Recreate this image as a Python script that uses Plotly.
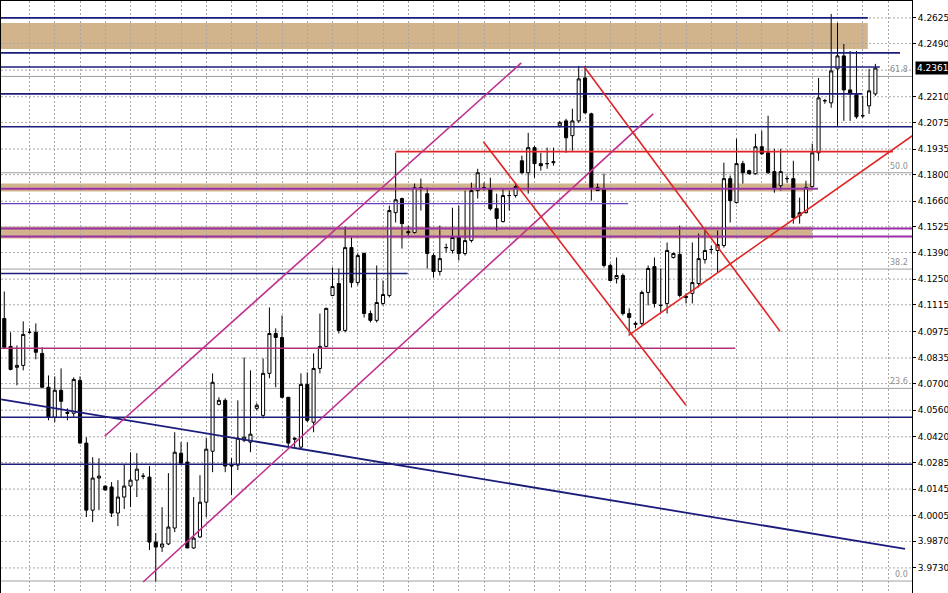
import plotly.graph_objects as go

# ---------------- data (prices) ----------------
opens = [4.1043,4.0896,4.0786,4.0796,4.0970,4.0970,4.0859,4.0681,4.0523,4.0665,
         4.0549,4.0544,4.0717,4.0387,4.0034,4.0203,4.0161,4.0156,4.0019,4.0103,
         4.0161,4.0192,4.0213,4.0208,3.9866,3.9840,3.9856,3.9940,4.0334,4.0287,
         3.9835,3.9893,4.0076,4.0344,4.0591,4.0612,4.0266,4.0271,4.0402,4.0392,
         4.0570,4.0533,4.0754,4.0964,4.0943,4.0628,4.0413,4.0366,4.0696,4.0497,
         4.0780,4.0896,4.1164,4.1227,4.0980,4.1416,4.1232,4.1385,4.1069,4.1033,
         4.1122,4.1164,4.1600,4.1674,4.1500,4.1495,4.1732,4.1700,4.1374,4.1290,
         4.1416,4.1401,4.1469,4.1385,4.1453,4.1716,4.1732,4.1726,4.1621,4.1553,
         4.1690,4.1690,4.1873,4.1810,4.1942,4.1858,4.1858,4.1863,4.2057,4.2083,
         4.2005,4.2083,4.2309,4.2120,4.1732,4.1721,4.1322,4.1253,4.1269,4.1069,
         4.1012,4.1017,4.1180,4.1316,4.1112,4.1122,4.1364,4.1380,4.1159,4.1175,
         4.1227,4.1353,4.1406,4.1401,4.1427,4.1779,4.1653,4.1858,4.1821,4.1805,
         4.1947,4.1915,4.1816,4.1742,4.1779,4.1779,4.1584,4.1600,4.1737,4.1915,
         4.2189,4.2178,4.2357,4.2425,4.2246,4.2220,4.2110,4.2162,4.2225]
highs = [4.1185,4.0970,4.0901,4.1028,4.0991,4.1017,4.0891,4.0743,4.0738,4.0780,
         4.0570,4.0733,4.0738,4.0418,4.0313,4.0308,4.0163,4.0182,4.0192,4.0276,
         4.0339,4.0334,4.0229,4.0266,3.9914,4.0050,4.0229,4.0444,4.0392,4.0392,
         4.0103,4.0218,4.0413,4.0754,4.0628,4.0623,4.0308,4.0612,4.0838,4.0770,
         4.0597,4.0833,4.1101,4.0991,4.1059,4.0630,4.0418,4.0754,4.0759,4.0859,
         4.1069,4.1100,4.1311,4.1306,4.1527,4.1469,4.1385,4.1390,4.1085,4.1322,
         4.1243,4.1637,4.1915,4.1679,4.1532,4.1753,4.1779,4.1732,4.1385,4.1532,
         4.1437,4.1626,4.1637,4.1716,4.1758,4.1831,4.1758,4.1784,4.1700,4.1726,
         4.1716,4.1758,4.1900,4.2020,4.1952,4.1915,4.1942,4.1942,4.2083,4.2094,
         4.2147,4.2372,4.2372,4.2126,4.1753,4.1805,4.1332,4.1364,4.1280,4.1096,
         4.1027,4.1190,4.1322,4.1364,4.1306,4.1443,4.1390,4.1532,4.1175,4.1443,
         4.1490,4.1506,4.1427,4.1506,4.1863,4.1795,4.1989,4.1873,4.1826,4.2015,
         4.2031,4.2110,4.1936,4.1936,4.1795,4.1873,4.1679,4.1768,4.1963,4.2309,
         4.2199,4.2646,4.2598,4.2488,4.2451,4.2451,4.2215,4.2357,4.2383]
lows = [4.0886,4.0770,4.0691,4.0770,4.0964,4.0828,4.0678,4.0507,4.0497,4.0523,
        4.0507,4.0523,4.0385,3.9998,3.9971,4.0034,4.0138,3.9998,3.9950,4.0040,
        4.0050,4.0103,4.0197,3.9824,3.9660,3.9814,3.9850,3.9919,4.0281,3.9835,
        3.9830,3.9887,3.9998,4.0234,4.0586,4.0234,4.0113,4.0245,4.0392,4.0339,
        4.0560,4.0517,4.0728,4.0681,4.0623,4.0366,4.0366,4.0360,4.0497,4.0444,
        4.0754,4.0891,4.1160,4.0964,4.0970,4.1206,4.1217,4.1048,4.1022,4.1022,
        4.1112,4.1154,4.1548,4.1411,4.1479,4.1490,4.1611,4.1306,4.1259,4.1269,
        4.1390,4.1385,4.1348,4.1374,4.1443,4.1674,4.1716,4.1611,4.1506,4.1548,
        4.1611,4.1679,4.1805,4.1700,4.1784,4.1821,4.1831,4.1847,4.2047,4.1915,
        4.1926,4.2073,4.2120,4.1663,4.1716,4.1311,4.1243,4.1227,4.1059,4.0964,
        4.0991,4.1006,4.1112,4.1101,4.1075,4.1069,4.1358,4.1154,4.1122,4.1122,
        4.1206,4.1332,4.1385,4.1285,4.1416,4.1548,4.1648,4.1753,4.1800,4.1800,
        4.1905,4.1805,4.1705,4.1716,4.1758,4.1542,4.1542,4.1595,4.1732,4.1873,
        4.2173,4.2152,4.2057,4.2083,4.2083,4.2094,4.2099,4.2120,4.2215]
closes = [4.0891,4.0775,4.0796,4.0959,4.0970,4.0865,4.0681,4.0523,4.0665,4.0607,
          4.0544,4.0722,4.0387,4.0034,4.0203,4.0213,4.0140,4.0019,4.0103,4.0161,
          4.0192,4.0250,4.0213,3.9866,3.9840,3.9856,3.9945,4.0339,4.0281,3.9835,
          3.9887,4.0076,4.0355,4.0707,4.0612,4.0266,4.0271,4.0413,4.0418,4.0434,
          4.0586,4.0754,4.0964,4.0943,4.0628,4.0387,4.0408,4.0696,4.0507,4.0780,
          4.0896,4.1096,4.1211,4.0980,4.1416,4.1232,4.1374,4.1069,4.1033,4.1127,
          4.1169,4.1611,4.1668,4.1542,4.1495,4.1732,4.1726,4.1385,4.1290,4.1358,
          4.1416,4.1469,4.1385,4.1453,4.1716,4.1810,4.1732,4.1621,4.1569,4.1690,
          4.1690,4.1737,4.1810,4.1942,4.1858,4.1847,4.1858,4.1868,4.2073,4.1994,
          4.2083,4.2304,4.2126,4.1732,4.1716,4.1322,4.1243,4.1269,4.1069,4.1048,
          4.1017,4.1180,4.1306,4.1122,4.1112,4.1401,4.1385,4.1164,4.1154,4.1232,
          4.1358,4.1401,4.1406,4.1432,4.1779,4.1663,4.1858,4.1810,4.1805,4.1947,
          4.1910,4.1810,4.1726,4.1816,4.1779,4.1574,4.1600,4.1732,4.1915,4.2204,
          4.2189,4.2346,4.2425,4.2246,4.2225,4.2105,4.2110,4.2241,4.2361]

y_ticks = [4.2625, 4.2490, 4.2210, 4.2075, 4.1935, 4.1800, 4.1660, 4.1525, 4.1390,
           4.1250, 4.1115, 4.0975, 4.0835, 4.0700, 4.0560, 4.0420, 4.0285, 4.0145,
           4.0005, 3.9870, 3.9730, 3.9590]
grid_levels = y_ticks + [4.2350]
last_price = 4.2361

# horizontal levels: (price, last bar index reached)
navy_levels = [(4.2625, 136.8), (4.2441, 141.9), (4.2367, 138.7), (4.2225, 135.9),
               (4.2052, 144.0), (4.1280, 63.9), (4.0523, 144.0), (4.0276, 144.0)]
zones = [(4.2598, 4.2462, 136.8), (4.1753, 4.1711, 128.0), (4.1527, 4.1464, 128.0)]
purple_levels = [(4.1726, 128.9), (4.1516, 144.0), (4.1474, 144.0)]
violet_levels = [(4.1647, 98.8)]
magenta_levels = [(4.0886, 115.8)]
red_levels = [(4.1921, 62.0, 140.8)]
fib_levels = [(4.2317, "61.8"), (4.1810, "50.0"), (4.1303, "38.2"), (4.0675, "23.6"), (3.9661, "0.0")]

# trend lines: (bar0, price0, bar1, price1)
navy_trend = [(-0.5, 4.0617, 142.7, 3.9830)]
magenta_trend = [(15.9, 4.0423, 81.9, 4.2388), (22.0, 3.9656, 102.8, 4.2120)]
red_trend = [(75.9, 4.1973, 108.0, 4.0586), (91.9, 4.2367, 122.9, 4.0975),
             (98.9, 4.0954, 144.3, 4.2015)]

X_MIN, X_MAX = -0.52, 143.8
Y_MIN, Y_MAX = 3.9598, 4.2714

# ---------------- figure ----------------
fig = go.Figure()
fig.add_trace(go.Candlestick(
    x=list(range(len(opens))), open=opens, high=highs, low=lows, close=closes,
    increasing=dict(line=dict(color="black", width=1), fillcolor="white"),
    decreasing=dict(line=dict(color="black", width=1), fillcolor="black"),
    whiskerwidth=0, showlegend=False, hoverinfo="skip"))

shapes = []
NAVY = "#1c1c7c"
for lo_hi in zones:
    shapes.append(dict(type="rect", x0=X_MIN, x1=lo_hi[2], y0=lo_hi[0], y1=lo_hi[1],
                       fillcolor="#d2b48c", line=dict(width=0), layer="below"))
for p, label in fib_levels:
    shapes.append(dict(type="line", x0=X_MIN, x1=X_MAX, y0=p, y1=p,
                       line=dict(color="#a0a0a0", width=1), layer="below"))
for p, xe in navy_levels:
    shapes.append(dict(type="line", x0=X_MIN, x1=min(xe, X_MAX), y0=p, y1=p,
                       line=dict(color=NAVY, width=1.6)))
for p, xe in purple_levels:
    shapes.append(dict(type="line", x0=X_MIN, x1=min(xe, X_MAX), y0=p, y1=p,
                       line=dict(color="#9a2fa8", width=2)))
for p, xe in violet_levels:
    shapes.append(dict(type="line", x0=X_MIN, x1=xe, y0=p, y1=p,
                       line=dict(color="#6a3fc0", width=1.3)))
for p, xe in magenta_levels:
    shapes.append(dict(type="line", x0=X_MIN, x1=xe, y0=p, y1=p,
                       line=dict(color="#b0307e", width=1.6)))
for p, xs, xe in red_levels:
    shapes.append(dict(type="line", x0=xs, x1=xe, y0=p, y1=p,
                       line=dict(color="#e02424", width=1.6)))
for x0, y0, x1, y1 in navy_trend:
    shapes.append(dict(type="line", x0=x0, y0=y0, x1=x1, y1=y1,
                       line=dict(color=NAVY, width=1.8)))
for x0, y0, x1, y1 in magenta_trend:
    shapes.append(dict(type="line", x0=x0, y0=y0, x1=x1, y1=y1,
                       line=dict(color="#c0308e", width=1.6)))
for x0, y0, x1, y1 in red_trend:
    shapes.append(dict(type="line", x0=x0, y0=y0, x1=x1, y1=y1,
                       line=dict(color="#e02424", width=1.6)))
for p in grid_levels:
    shapes.append(dict(type="line", x0=X_MIN, x1=X_MAX, y0=p, y1=p,
                       line=dict(color="#a8a8a8", width=1, dash="2px,2px"), layer="below"))
for s in shapes:
    s.setdefault("xref", "x")
    s.setdefault("yref", "y")
fig.update_layout(shapes=shapes)

annotations = []
for p, label in fib_levels:
    annotations.append(dict(x=X_MAX - 0.3, y=p, xref="x", yref="y", text=label,
                            showarrow=False, xanchor="right", yanchor="bottom",
                            font=dict(family="DejaVu Sans", size=8, color="#909090")))
annotations.append(dict(x=1.0, y=last_price, xref="paper", yref="y",
                        text=f"{last_price:.4f}", showarrow=False, xanchor="left",
                        yanchor="middle", xshift=3, bgcolor="black", borderpad=1,
                        font=dict(family="DejaVu Sans", size=9, color="white")))
fig.update_layout(annotations=annotations)

fig.update_layout(
    width=948, height=593,
    margin=dict(l=1, r=36, t=1, b=0, autoexpand=False),
    paper_bgcolor="white", plot_bgcolor="white",
    showlegend=False,
    xaxis=dict(range=[X_MIN, X_MAX], rangeslider=dict(visible=False),
               tickvals=list(range(4, 144, 4)), showticklabels=False, ticks="",
               showgrid=True, gridcolor="#a8a8a8", griddash="2px,2px", gridwidth=1,
               zeroline=False, showline=True, linecolor="black", linewidth=1, mirror=True),
    yaxis=dict(range=[Y_MIN, Y_MAX], side="right", tickvals=y_ticks,
               ticktext=[f"{v:.4f}" for v in y_ticks], ticks="outside", ticklen=3,
               tickcolor="black", tickfont=dict(family="DejaVu Sans", size=9, color="black"),
               showgrid=False, zeroline=False, showline=True, linecolor="black",
               linewidth=1, mirror=True),
)

fig.write_html("out.html", config={"displayModeBar": False},
               post_script="document.body.style.margin='0';document.body.style.overflow='hidden';")
